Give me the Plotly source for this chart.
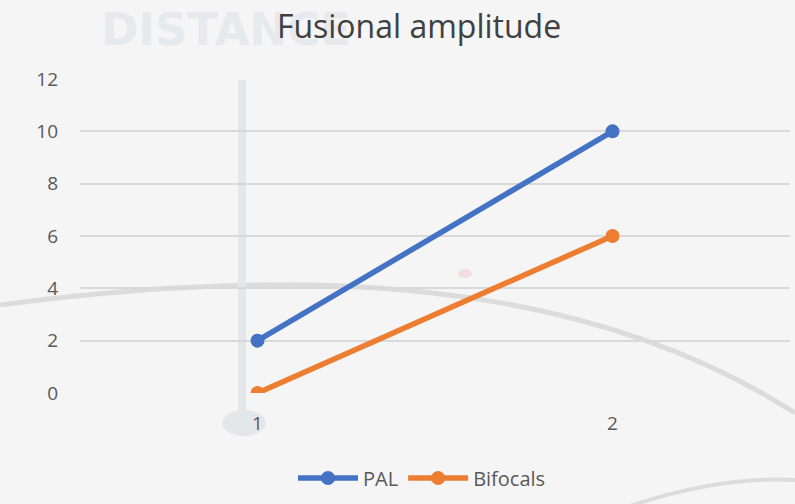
import plotly.graph_objects as go

categories = [1, 2]
pal_values = [2, 10]
bifocal_values = [0, 6]
y_ticks = [0, 2, 4, 6, 8, 10, 12]

W, H = 795, 504
L, R, T, B = 80, 5, 79, 111
pw, ph = W - L - R, H - T - B

def px(x):
    return (x - L) / pw

def py(y):
    return (H - B - y) / ph

fig = go.Figure()
fig.add_trace(go.Scatter(x=categories, y=pal_values, name="PAL", mode="lines+markers",
                         line=dict(color="#4472C4", width=5.5), marker=dict(size=14, color="#4472C4")))
fig.add_trace(go.Scatter(x=categories, y=bifocal_values, name="Bifocals", mode="lines+markers",
                         line=dict(color="#ED7D31", width=5.5), marker=dict(size=14, color="#ED7D31")))

# faint background decorations (watermark-like)
shapes = [
    dict(type="rect", xref="paper", yref="paper", layer="below",
         x0=px(98), x1=px(420), y0=py(46), y1=py(6),
         line=dict(width=0), fillcolor="rgba(0,0,0,0)",
         label=dict(text="DISTANCE", textposition="middle left", padding=0,
                    font=dict(size=45, color="#e7eaed", family="DejaVu Sans", weight="bold"))),
    dict(type="path", xref="paper", yref="paper", layer="below",
         path=f"M {px(0)} {py(305)} C {px(250)} {py(272)} {px(560)} {py(262)} {px(795)} {py(413)}",
         line=dict(color="#dcdcdc", width=5)),
    dict(type="path", xref="paper", yref="paper", layer="below",
         path=f"M {px(630)} {py(506)} Q {px(720)} {py(476)} {px(795)} {py(480)}",
         line=dict(color="#dcdcdc", width=4)),
    dict(type="line", xref="paper", yref="paper", layer="below",
         x0=px(242), x1=px(242), y0=py(80), y1=py(420),
         line=dict(color="#e3e7ea", width=8)),
    dict(type="circle", xref="paper", yref="paper", layer="below",
         x0=px(222), x1=px(266), y0=py(410), y1=py(436),
         fillcolor="#e3e7ea", line=dict(width=0)),
    dict(type="circle", xref="paper", yref="paper", layer="below",
         x0=px(458), x1=px(472), y0=py(269), y1=py(278),
         fillcolor="#f2dede", line=dict(width=0)),
]

fig.update_layout(
    width=W, height=H,
    margin=dict(l=L, r=R, t=T, b=B),
    paper_bgcolor="#f5f5f5", plot_bgcolor="rgba(0,0,0,0)",
    font=dict(family="Open Sans, Liberation Sans, sans-serif", color="#595959", size=18),
    title=dict(text="Fusional amplitude", x=px(419), xref="paper", xanchor="center", y=1 - 27 / H, yanchor="middle",
               font=dict(size=32, color="#404040")),
    showlegend=True,
    legend=dict(orientation="h", x=px(422), xanchor="center", y=py(478), yanchor="middle",
                font=dict(size=20, color="#595959"), itemwidth=60, bgcolor="rgba(0,0,0,0)"),
    xaxis=dict(range=[0.5, 2.5], tickvals=categories, ticktext=[str(c) for c in categories],
               showgrid=False, zeroline=False, showline=False, ticks="", ticklabelstandoff=17,
               tickfont=dict(size=19)),
    yaxis=dict(range=[0, 12], tickvals=y_ticks, showgrid=True, gridcolor="#d9d9d9", gridwidth=1.5,
               zeroline=False, showline=False, ticks="", ticklabelstandoff=21, tickfont=dict(size=19)),
    shapes=shapes,
)
fig.write_html("out.html", config={"displayModeBar": False},
               post_script="document.body.style.margin='0';document.body.style.background='#f5f5f5';")
